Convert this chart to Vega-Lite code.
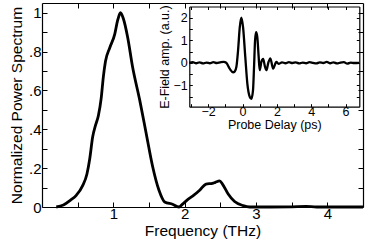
{
  "$schema": "https://vega.github.io/schema/vega-lite/v6.json",
  "width": 321,
  "height": 204,
  "autosize": {"type": "none"},
  "padding": {"left": 42, "top": 3, "right": 3, "bottom": 37},
  "background": "white",
  "config": {
    "view": {"stroke": null},
    "axis": {
      "domainColor": "black",
      "domainWidth": 1.2,
      "tickColor": "black",
      "tickWidth": 1,
      "labelColor": "black",
      "titleColor": "black",
      "labelFont": "Liberation Sans",
      "titleFont": "Liberation Sans",
      "titleFontWeight": "normal",
      "grid": false,
      "labelFlush": false,
      "labelOverlap": false
    }
  },
  "datasets": {
    "spec": [
      {"f": 0.2, "v": 0}, {"f": 0.3, "v": 0.01}, {"f": 0.4, "v": 0.035}, {"f": 0.48, "v": 0.06},
      {"f": 0.57, "v": 0.11}, {"f": 0.63, "v": 0.17}, {"f": 0.67, "v": 0.25}, {"f": 0.71, "v": 0.36},
      {"f": 0.75, "v": 0.42}, {"f": 0.79, "v": 0.47}, {"f": 0.83, "v": 0.56}, {"f": 0.86, "v": 0.67},
      {"f": 0.89, "v": 0.75}, {"f": 0.95, "v": 0.82}, {"f": 1.02, "v": 0.89}, {"f": 1.06, "v": 0.96},
      {"f": 1.1, "v": 1.0}, {"f": 1.14, "v": 0.97}, {"f": 1.2, "v": 0.875}, {"f": 1.27, "v": 0.72},
      {"f": 1.37, "v": 0.55}, {"f": 1.46, "v": 0.38}, {"f": 1.55, "v": 0.21}, {"f": 1.64, "v": 0.086},
      {"f": 1.72, "v": 0.026}, {"f": 1.83, "v": 0.014}, {"f": 1.92, "v": 0.0}, {"f": 1.97, "v": 0.015},
      {"f": 2.05, "v": 0.04}, {"f": 2.12, "v": 0.058}, {"f": 2.21, "v": 0.086}, {"f": 2.3, "v": 0.118},
      {"f": 2.39, "v": 0.122}, {"f": 2.43, "v": 0.127}, {"f": 2.49, "v": 0.134}, {"f": 2.53, "v": 0.118},
      {"f": 2.61, "v": 0.067}, {"f": 2.7, "v": 0.028}, {"f": 2.82, "v": 0.007}, {"f": 2.91, "v": 0.0},
      {"f": 3.2, "v": 0.0}, {"f": 3.5, "v": 0.001}, {"f": 3.7, "v": 0.003}, {"f": 3.85, "v": 0.0},
      {"f": 4.5, "v": 0.0}
    ],
    "wave": [
      {"t": -3.1, "a": 0.0}, {"t": -2.9, "a": 0.03}, {"t": -2.7, "a": -0.02}, {"t": -2.5, "a": 0.02},
      {"t": -2.3, "a": -0.03}, {"t": -2.1, "a": 0.01}, {"t": -1.9, "a": -0.02}, {"t": -1.7, "a": 0.03},
      {"t": -1.5, "a": -0.01}, {"t": -1.3, "a": 0.02}, {"t": -1.1, "a": 0.04}, {"t": -0.95, "a": 0.0},
      {"t": -0.75, "a": -0.26}, {"t": -0.55, "a": -0.42}, {"t": -0.45, "a": -0.38}, {"t": -0.36, "a": -0.19},
      {"t": -0.26, "a": 0.55}, {"t": -0.16, "a": 1.58}, {"t": -0.07, "a": 2.0}, {"t": 0.03, "a": 1.58},
      {"t": 0.16, "a": 0.26}, {"t": 0.28, "a": -0.92}, {"t": 0.42, "a": -1.51}, {"t": 0.51, "a": -1.6},
      {"t": 0.61, "a": -1.22}, {"t": 0.67, "a": -0.19}, {"t": 0.73, "a": 1.0}, {"t": 0.79, "a": 1.36},
      {"t": 0.86, "a": 1.14}, {"t": 0.94, "a": 0.26}, {"t": 1.0, "a": -0.33}, {"t": 1.1, "a": 0.05},
      {"t": 1.2, "a": 0.17}, {"t": 1.3, "a": -0.15}, {"t": 1.39, "a": -0.33}, {"t": 1.5, "a": 0.0},
      {"t": 1.62, "a": 0.2}, {"t": 1.78, "a": -0.26}, {"t": 1.97, "a": 0.04}, {"t": 2.1, "a": -0.05},
      {"t": 2.3, "a": 0.02}, {"t": 2.5, "a": -0.02}, {"t": 2.7, "a": 0.03}, {"t": 2.9, "a": -0.01},
      {"t": 3.1, "a": 0.02}, {"t": 3.3, "a": -0.03}, {"t": 3.5, "a": 0.01}, {"t": 3.7, "a": -0.02},
      {"t": 3.9, "a": 0.03}, {"t": 4.1, "a": 0.0}, {"t": 4.3, "a": -0.03}, {"t": 4.5, "a": 0.02},
      {"t": 4.7, "a": -0.01}, {"t": 4.9, "a": 0.04}, {"t": 5.1, "a": -0.02}, {"t": 5.3, "a": 0.02},
      {"t": 5.5, "a": -0.03}, {"t": 5.7, "a": 0.01}, {"t": 5.9, "a": 0.03}, {"t": 6.1, "a": -0.04},
      {"t": 6.3, "a": 0.01}, {"t": 6.5, "a": -0.01}, {"t": 6.8, "a": 0.0}
    ]
  },
  "layer": [
    {
      "layer": [
        {
          "data": {"name": "spec"},
          "mark": {"type": "line", "color": "black", "strokeWidth": 2.8, "interpolate": "monotone"},
          "encoding": {
            "x": {
              "field": "f", "type": "quantitative",
              "scale": {"domain": [0, 4.5], "nice": false, "zero": false},
              "axis": {
                "orient": "bottom", "values": [0.5, 1, 1.5, 2, 2.5, 3, 3.5, 4],
                "labelExpr": "datum.value % 1 == 0 ? format(datum.value, 'd') : ''",
                "title": "Frequency (THz)", "tickSize": -5, "labelPadding": 4, "titlePadding": 2,
                "labelFontSize": 15, "titleFontSize": 15.5
              }
            },
            "y": {
              "field": "v", "type": "quantitative",
              "scale": {"domain": [0, 1.05], "nice": false, "zero": false},
              "axis": {
                "orient": "left", "values": [0, 0.1, 0.2, 0.3, 0.4, 0.5, 0.6, 0.7, 0.8, 0.9, 1],
                "labelExpr": "datum.value == 0 ? '0' : datum.value == 1 ? '1' : (round(datum.value * 10) % 2 == 0 ? replace(format(datum.value, '.1f'), '0.', '.') : '')",
                "title": "Normalized Power Spectrum", "tickSize": -5, "labelPadding": 6, "titlePadding": 4,
                "labelFontSize": 15, "titleFontSize": 15.5
              }
            }
          }
        },
        {
          "data": {"name": "spec"},
          "mark": {"type": "line", "strokeOpacity": 0},
          "encoding": {
            "x": {
              "field": "f", "type": "quantitative",
              "axis": {"orient": "top", "values": [0.5, 1, 1.5, 2, 2.5, 3, 3.5, 4], "labels": false, "title": null, "tickSize": -5}
            },
            "y": {
              "field": "v", "type": "quantitative",
              "axis": {"orient": "right", "values": [0, 0.1, 0.2, 0.3, 0.4, 0.5, 0.6, 0.7, 0.8, 0.9, 1], "labels": false, "title": null, "tickSize": -5}
            }
          }
        }
      ],
      "resolve": {"axis": {"x": "independent", "y": "independent"}}
    },
    {
      "layer": [
        {
          "data": {"name": "wave"},
          "mark": {"type": "line", "color": "black", "strokeWidth": 2.3, "interpolate": "monotone"},
          "encoding": {
            "x": {
              "field": "t", "type": "quantitative",
              "scale": {"domain": [-3.1, 6.8], "range": [147.3, 317.3], "nice": false, "zero": false},
              "axis": {
                "orient": "bottom", "offset": -100.3, "values": [-3, -2, -1, 0, 1, 2, 3, 4, 5, 6],
                "labelExpr": "datum.value % 2 == 0 ? format(datum.value, 'd') : ''",
                "title": "Probe Delay (ps)", "tickSize": -3, "labelPadding": 2, "titlePadding": 0,
                "labelFontSize": 12.5, "titleFontSize": 12.5
              }
            },
            "y": {
              "field": "a", "type": "quantitative",
              "scale": {"domain": [-1.95, 2.5], "range": [103.7, 3.5], "nice": false, "zero": false},
              "axis": {
                "orient": "left", "offset": -147.3, "values": [-2, -1.5, -1, -0.5, 0, 0.5, 1, 1.5, 2],
                "labelExpr": "datum.value % 1 == 0 ? format(datum.value, 'd') : ''",
                "title": "E-Field amp. (a.u.)", "tickSize": -3, "labelPadding": 5, "titlePadding": 2,
                "labelFontSize": 12.5, "titleFontSize": 12.5
              }
            }
          }
        },
        {
          "data": {"name": "wave"},
          "mark": {"type": "line", "strokeOpacity": 0},
          "encoding": {
            "x": {
              "field": "t", "type": "quantitative",
              "axis": {"orient": "top", "offset": -3.5, "values": [-3, -2, -1, 0, 1, 2, 3, 4, 5, 6], "labels": false, "title": null, "tickSize": -3}
            },
            "y": {
              "field": "a", "type": "quantitative",
              "axis": {"orient": "right", "offset": -3.7, "values": [-2, -1.5, -1, -0.5, 0, 0.5, 1, 1.5, 2], "labels": false, "title": null, "tickSize": -3}
            }
          }
        }
      ],
      "resolve": {"axis": {"x": "independent", "y": "independent"}}
    }
  ],
  "resolve": {"scale": {"x": "independent", "y": "independent"}}
}
